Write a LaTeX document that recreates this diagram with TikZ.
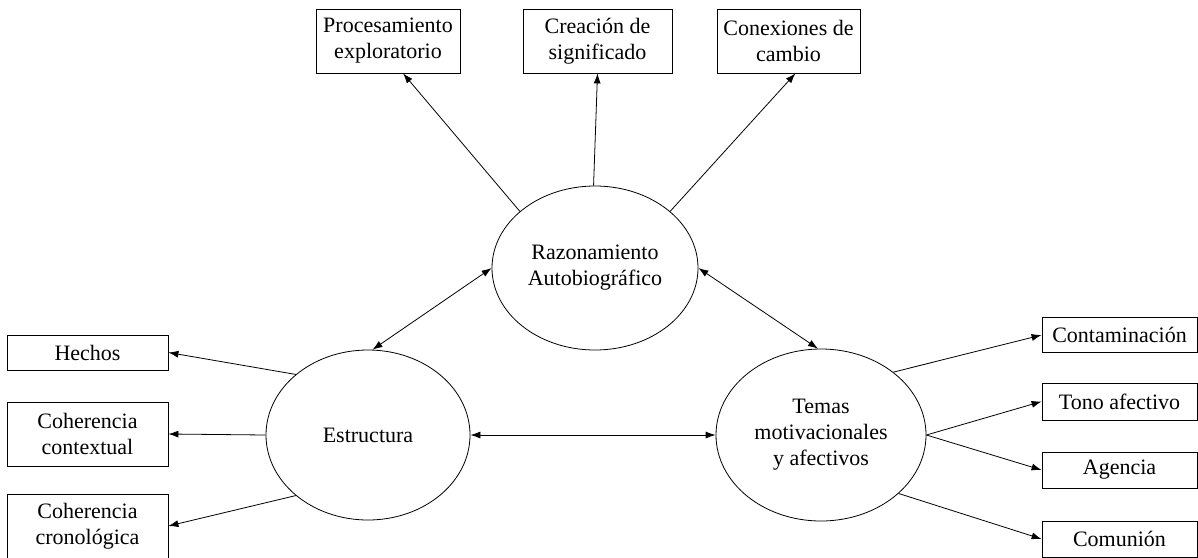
\documentclass[tikz,border=0pt]{standalone}
\usepackage{fontspec}
\setmainfont{Liberation Serif}
\usetikzlibrary{arrows.meta,shapes.geometric,positioning}

\begin{document}
\begin{tikzpicture}[
    x=1pt, y=-1pt,
    box/.style={rectangle, draw, line width=0.8pt, align=center, inner sep=0pt,
                font=\fontsize{22}{26}\selectfont},
    factor/.style={ellipse, draw, line width=0.8pt, align=center, inner sep=0pt,
                   font=\fontsize{22}{26}\selectfont},
    conn/.style={line width=0.8pt, -{Latex[length=10pt,width=7pt]}},
    dual/.style={line width=0.8pt, {Latex[length=10pt,width=7pt]}-{Latex[length=10pt,width=7pt]}}
]
    \useasboundingbox (0,0) rectangle (1198,557);

    % Central factors
    \node[factor, minimum width=206pt, minimum height=164pt] (razon) at (595, 268) {Razonamiento\\Autobiogr\'afico};
    \node[factor, minimum width=204pt, minimum height=170pt] (estr) at (368, 435) {Estructura};
    \node[factor, minimum width=210pt, minimum height=172pt] (temas) at (821, 435) {Temas\\motivacionales\\y afectivos};

    % Top indicators
    \node[box, minimum width=144pt, minimum height=64pt] (proc) at (388, 41) {Procesamiento\\exploratorio};
    \node[box, minimum width=149pt, minimum height=64pt] (crea) at (597.5, 41) {Creaci\'on de\\significado};
    \node[box, minimum width=143pt, minimum height=64pt] (cone) at (788.5, 41) {Conexiones de\\cambio};

    % Left indicators
    \node[box, minimum width=161pt, minimum height=35pt] (hech) at (87.5, 352.5) {Hechos};
    \node[box, minimum width=161pt, minimum height=64pt] (cctx) at (87.5, 434) {Coherencia\\contextual};
    \node[box, minimum width=161pt, minimum height=64pt] (ccro) at (87.5, 526) {Coherencia\\cronol\'ogica};

    % Right indicators
    \node[box, minimum width=155pt, minimum height=35pt] (cont) at (1119.5, 335) {Contaminaci\'on};
    \node[box, minimum width=155pt, minimum height=37pt] (tono) at (1119.5, 401.5) {Tono afectivo};
    \node[box, minimum width=155pt, minimum height=36pt] (agen) at (1119.5, 470) {Agencia};
    \node[box, minimum width=155pt, minimum height=36pt] (comu) at (1119.5, 539) {Comuni\'on};

    % Arrows
    \draw[conn] (razon.143) -- (proc.-65);
    \draw[conn] (razon.91) -- (crea.south);
    \draw[conn] (razon.37) -- (cone.-78);
    \draw[dual] (razon.west) -- (estr.87);
    \draw[dual] (razon.east) -- (temas.92);
    \draw[dual] (estr.east) -- (temas.west);
    \draw[conn] (estr.140) -- (hech.east);
    \draw[conn] (estr.west) -- (cctx.east);
    \draw[conn] (estr.220) -- (ccro.east);
    \draw[conn] (temas.41) -- (cont.west);
    \draw[conn] (temas.east) -- (tono.west);
    \draw[conn] (temas.east) -- (agen.west);
    \draw[conn] (temas.-37) -- (comu.west);
\end{tikzpicture}
\end{document}
